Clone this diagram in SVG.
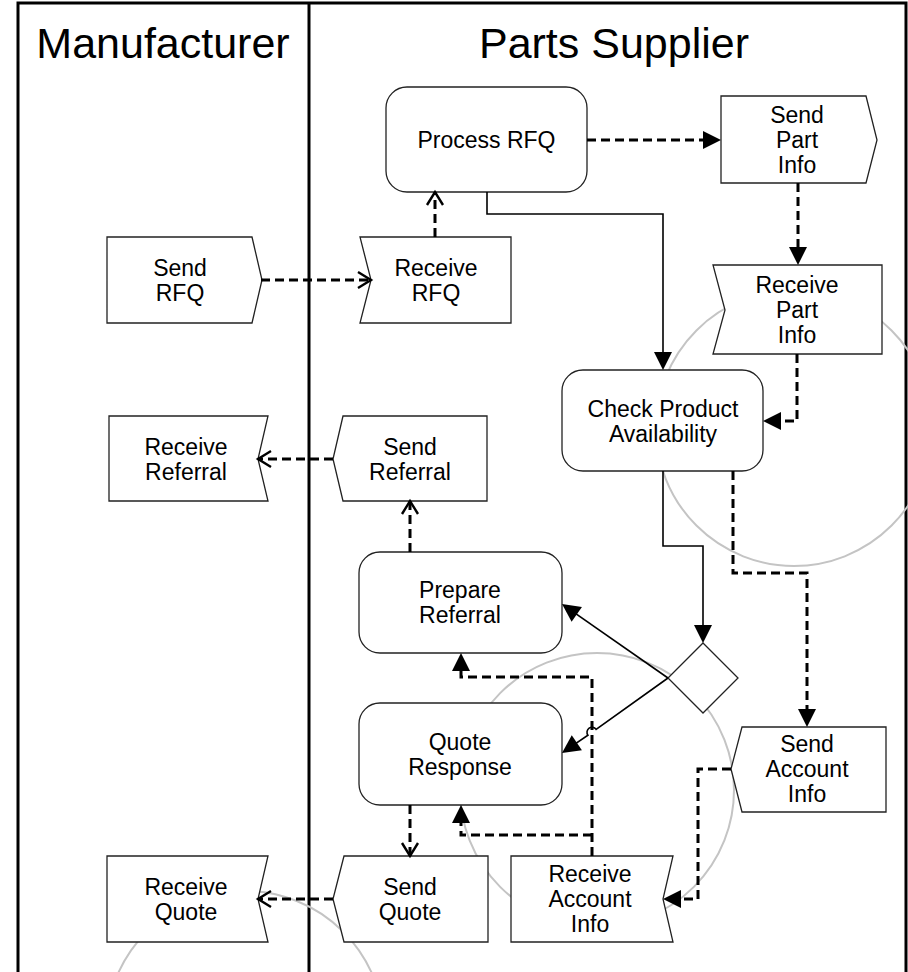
<svg xmlns="http://www.w3.org/2000/svg" width="908" height="972" viewBox="0 0 908 972">
  <style>
    .lane { stroke: #000; stroke-width: 3; fill: none; }
    .halo { fill: none; stroke: #c4c4c4; stroke-width: 2; }
    .box { fill: #fff; stroke: #222; stroke-width: 1.3; }
    .gate { fill: #fff; stroke: #222; stroke-width: 1.3; }
    .flow { fill: none; stroke: #000; stroke-width: 1.6; }
    .msg { fill: none; stroke: #000; stroke-width: 3; stroke-dasharray: 9 5; }
    text { font-family: "Liberation Sans", Arial, sans-serif; fill: #000; }
    .title { font-size: 43px; text-anchor: middle; }
    .label { font-size: 23px; text-anchor: middle; }
  </style>
  <defs>
    <marker id="solidHead" markerUnits="userSpaceOnUse" viewBox="-20 -10 26 20" refX="0" refY="0" markerWidth="26" markerHeight="20" orient="auto" overflow="visible">
      <path d="M-14,-9 L4,0 L-14,9 Z" fill="#000"/>
    </marker>
    <marker id="openHead" markerUnits="userSpaceOnUse" viewBox="-16 -10 20 20" refX="0" refY="0" markerWidth="20" markerHeight="20" orient="auto" overflow="visible">
      <path d="M-13,-8 L0,0 L-13,8" fill="none" stroke="#000" stroke-width="2.4"/>
    </marker>
  </defs>

  <rect width="908" height="972" fill="#fff"/>

  <!-- swimlanes -->
  <g id="lanes">
    <path class="lane" d="M18,972 V3 H906 V972"/>
    <path class="lane" d="M309,3 V972"/>
    <text class="title" x="163" y="58">Manufacturer</text>
    <text class="title" x="614" y="58">Parts Supplier</text>
  </g>

  <!-- light grey rings behind the nodes -->
  <g id="rings">
    <circle class="halo" cx="794" cy="428" r="138"/>
    <circle class="halo" cx="597" cy="790" r="137"/>
    <circle class="halo" cx="245" cy="1030" r="139"/>
  </g>

  <g id="process-rfq">
    <rect class="box" x="386" y="87" width="201" height="105" rx="21"/>
    <text class="label" x="486.5" y="148">Process RFQ</text>
  </g>

  <g id="send-part-info">
    <polygon class="box" points="721,96 866,96 877,140 866,183 721,183"/>
    <text class="label" x="797" y="123">Send</text>
    <text class="label" x="797" y="148">Part</text>
    <text class="label" x="797" y="173">Info</text>
  </g>

  <g id="send-rfq">
    <polygon class="box" points="107,237 252,237 262,280 252,323 107,323"/>
    <text class="label" x="180" y="275.5">Send</text>
    <text class="label" x="180" y="300.5">RFQ</text>
  </g>

  <g id="receive-rfq">
    <polygon class="box" points="360,237 511,237 511,323 360,323 371,280"/>
    <text class="label" x="436" y="275.5">Receive</text>
    <text class="label" x="436" y="300.5">RFQ</text>
  </g>

  <g id="receive-part-info">
    <polygon class="box" points="713,265 882,265 882,354 713,354 725,310"/>
    <text class="label" x="797" y="293">Receive</text>
    <text class="label" x="797" y="318">Part</text>
    <text class="label" x="797" y="343">Info</text>
  </g>

  <g id="check-product-availability">
    <rect class="box" x="562" y="370" width="201" height="101" rx="21"/>
    <text class="label" x="663" y="416.5">Check Product</text>
    <text class="label" x="663" y="441.5">Availability</text>
  </g>

  <g id="receive-referral">
    <polygon class="box" points="109,416 268,416 258,459 268,501 109,501"/>
    <text class="label" x="186" y="454.5">Receive</text>
    <text class="label" x="186" y="479.5">Referral</text>
  </g>

  <g id="send-referral">
    <polygon class="box" points="343,416 487,416 487,501 343,501 333,459"/>
    <text class="label" x="410" y="454.5">Send</text>
    <text class="label" x="410" y="479.5">Referral</text>
  </g>

  <g id="prepare-referral">
    <rect class="box" x="359" y="552" width="203" height="101" rx="21"/>
    <text class="label" x="460" y="598">Prepare</text>
    <text class="label" x="460" y="623">Referral</text>
  </g>

  <g id="availability-gateway">
    <polygon class="gate" points="703,643 738,678 703,713 668,678"/>
  </g>

  <g id="quote-response">
    <rect class="box" x="359" y="703" width="203" height="102" rx="21"/>
    <text class="label" x="460" y="749.5">Quote</text>
    <text class="label" x="460" y="774.5">Response</text>
  </g>

  <g id="send-account-info">
    <polygon class="box" points="742,727 886,727 886,812 742,812 731,769"/>
    <text class="label" x="807" y="752">Send</text>
    <text class="label" x="807" y="777">Account</text>
    <text class="label" x="807" y="802">Info</text>
  </g>

  <g id="receive-account-info">
    <polygon class="box" points="511,856 673,856 663,899 673,942 511,942"/>
    <text class="label" x="590" y="882">Receive</text>
    <text class="label" x="590" y="907">Account</text>
    <text class="label" x="590" y="932">Info</text>
  </g>

  <g id="send-quote">
    <polygon class="box" points="344,856 488,856 488,942 344,942 333,899"/>
    <text class="label" x="410" y="894.5">Send</text>
    <text class="label" x="410" y="919.5">Quote</text>
  </g>

  <g id="receive-quote">
    <polygon class="box" points="107,856 268,856 258,899 268,942 107,942"/>
    <text class="label" x="186" y="894.5">Receive</text>
    <text class="label" x="186" y="919.5">Quote</text>
  </g>

  <!-- sequence flows (solid) and message flows (dashed) -->
  <g id="connectors">
    <path class="flow" d="M487,192 V214 H663 V366" marker-end="url(#solidHead)"/>
    <path class="flow" d="M663,471 V546 H703 V639" marker-end="url(#solidHead)"/>
    <path class="flow" d="M668,678 L565.3,606.3" marker-end="url(#solidHead)"/>
    <path class="flow" d="M668,678 L596.1,729.4 A5,5 0 0 0 587.9,735.2 L565.3,750.7" marker-end="url(#solidHead)"/>

    <path class="msg" d="M261,280 H371" marker-end="url(#openHead)"/>
    <path class="msg" d="M435,237 V192" marker-end="url(#openHead)"/>
    <path class="msg" d="M587,140 H717" marker-end="url(#solidHead)"/>
    <path class="msg" d="M798,183 V261" marker-end="url(#solidHead)"/>
    <path class="msg" d="M797,354 V421 H767" marker-end="url(#solidHead)"/>
    <path class="msg" d="M733,471 V573 H807 V723" marker-end="url(#solidHead)"/>
    <path class="msg" d="M410,552 V501" marker-end="url(#openHead)"/>
    <path class="msg" d="M333,459 H258" marker-end="url(#openHead)"/>
    <path class="msg" d="M592,856 V677 H461 V657" marker-end="url(#solidHead)"/>
    <path class="msg" d="M592,835 H461 V809" marker-end="url(#solidHead)"/>
    <path class="msg" d="M410,805 V856" marker-end="url(#openHead)"/>
    <path class="msg" d="M333,899 H258" marker-end="url(#openHead)"/>
    <path class="msg" d="M731,769 H698 V899 H667" marker-end="url(#solidHead)"/>
  </g>
</svg>
